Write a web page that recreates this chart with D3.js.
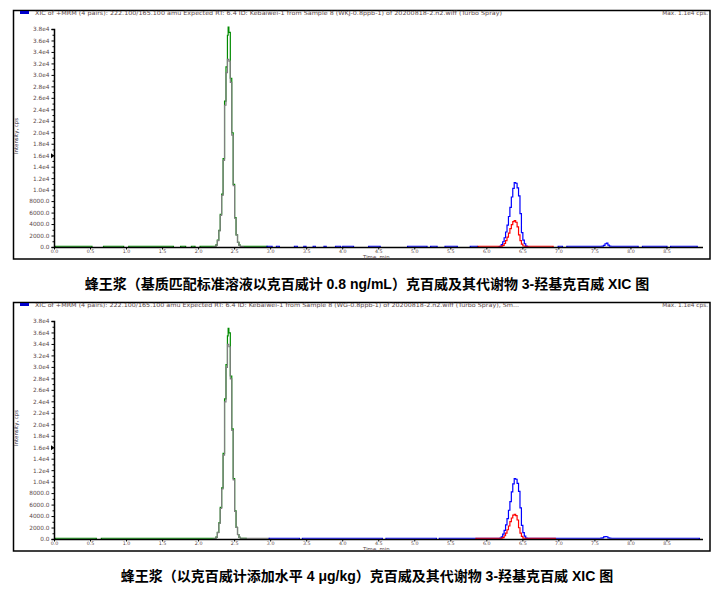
<!DOCTYPE html>
<html>
<head>
<meta charset="utf-8">
<script src="https://cdn.jsdelivr.net/npm/d3@7/dist/d3.min.js"></script>
<style>
  html, body { margin: 0; padding: 0; background: #fff; }
  svg { display: block; }
</style>
</head>
<body>
<svg id="chart" width="719" height="590"></svg>
<script>
// ---------------- DATA ----------------
const xTicks = [0.0, 0.5, 1.0, 1.5, 2.0, 2.5, 3.0, 3.5, 4.0, 4.5, 5.0, 5.5, 6.0, 6.5, 7.0, 7.5, 8.0, 8.5];
const yTickValues = [0, 2000, 4000, 6000, 8000, 10000, 12000, 14000, 16000, 18000, 20000, 22000, 24000, 26000, 28000, 30000, 32000, 34000, 36000, 38000];
const yTickLabels = ["0.0", "2000.0", "4000.0", "6000.0", "8000.0", "1.0e4", "1.2e4", "1.4e4", "1.6e4", "1.8e4", "2.0e4", "2.2e4", "2.4e4", "2.6e4", "2.8e4", "3.0e4", "3.2e4", "3.4e4", "3.6e4", "3.8e4"];
const headers = [
  "XIC of +MRM (4 pairs): 222.100/165.100 amu Expected RT: 6.4 ID: Kebaiwei-1 from Sample 8 (WKJ-0.8ppb-1) of 20200818-2.n2.wiff (Turbo Spray)",
  "XIC of +MRM (4 pairs): 222.100/165.100 amu Expected RT: 6.4 ID: Kebaiwei-1 from Sample 8 (WG-0.8ppb-1) of 20200818-2.n2.wiff (Turbo Spray), Sm..."
];
const maxLabels = ["Max. 1.1e4 cps.", "Max. 1.1e4 cps."];
const captions = [
  "蜂王浆（基质匹配标准溶液以克百威计 0.8 ng/mL）克百威及其代谢物 3-羟基克百威 XIC 图",
  "蜂王浆（以克百威计添加水平 4 μg/kg）克百威及其代谢物 3-羟基克百威 XIC 图"
];

// traces: [time (min), intensity (cps)]
const p1Green = [[0,0],[0.01,220],[0.52,0],[0.68,220],[0.96,0],[1.03,220],[1.65,0],[1.75,220],[1.82,0],[1.90,220],[1.95,0],[2.02,220],
  [2.20,220],[2.22,220],[2.24,450],[2.26,1300],[2.28,3000],[2.30,5800],[2.32,9300],[2.34,15500],[2.36,25500],[2.38,31500],[2.40,37000],[2.41,38400],
  [2.42,37500],[2.44,29500],[2.46,20000],[2.48,11000],[2.50,5200],[2.52,2200],[2.54,900],[2.56,400],[2.58,220],[2.95,0],[9.0,0]];
const p1Gray = [[2.18,0],[2.20,60],[2.22,120],[2.24,400],[2.26,1200],[2.28,2900],[2.30,5600],[2.32,9100],[2.34,15200],[2.36,24800],[2.38,30500],[2.40,32800],
  [2.42,32500],[2.44,28800],[2.46,19600],[2.48,10800],[2.50,5100],[2.52,2200],[2.54,900],[2.56,380],[2.58,140],[2.62,0]];
const p1Blue = [[0,0],[2.95,220],[3.02,0],[3.08,220],[3.12,0],[3.33,220],[3.37,0],[3.46,220],[3.49,0],[3.59,220],[3.62,0],[3.74,220],[3.77,0],
  [3.90,220],[3.97,0],[4.00,220],[4.15,0],[4.36,220],[4.52,0],[4.90,220],[5.17,0],[5.22,220],[5.31,0],[5.42,220],[5.59,0],[5.77,220],[5.87,0],
  [6.16,60],[6.18,220],[6.20,500],[6.22,1000],[6.24,1700],[6.26,2700],[6.28,3900],[6.30,5400],[6.32,7000],[6.34,8800],[6.36,10300],[6.38,11300],
  [6.40,11200],[6.42,10400],[6.44,9000],[6.46,5900],[6.48,2600],[6.50,1300],[6.52,650],[6.54,250],[6.56,80],[6.58,0],
  [6.99,220],[7.05,0],[7.11,220],[7.57,220],[7.60,240],[7.62,380],[7.64,650],[7.66,750],[7.68,420],[7.70,240],[7.72,220],[8.10,0],[8.16,220],[8.50,0],[8.55,220],[8.92,0],[9.0,0]];
const p1Red = [[5.86,0],[5.88,220],[6.18,220],[6.20,240],[6.22,350],[6.24,700],[6.26,1200],[6.28,1800],[6.30,2500],[6.32,3300],[6.34,4000],[6.36,4500],[6.38,4700],
  [6.40,4400],[6.42,3600],[6.44,2200],[6.46,1200],[6.48,600],[6.50,260],[6.52,220],[6.92,0],[6.94,0]];

const p2Green = [[0,0],[0.01,220],[0.58,0],[0.65,220],
  [2.20,220],[2.22,220],[2.24,430],[2.26,1250],[2.28,2900],[2.30,5600],[2.32,9000],[2.34,15000],[2.36,24500],[2.38,30500],[2.40,35500],[2.41,36800],
  [2.42,36000],[2.44,28500],[2.46,19300],[2.48,10600],[2.50,5000],[2.52,2100],[2.54,870],[2.56,380],[2.58,220],[2.66,0],[9.0,0]];
const p2Gray = [[2.18,0],[2.20,60],[2.22,120],[2.24,400],[2.26,1200],[2.28,2800],[2.30,5400],[2.32,8800],[2.34,14700],[2.36,24000],[2.38,30000],[2.40,34000],
  [2.42,33600],[2.44,28000],[2.46,19000],[2.48,10400],[2.50,4900],[2.52,2100],[2.54,860],[2.56,370],[2.58,220],[2.98,0]];
const p2Blue = [[0,0],[2.98,220],[3.40,0],[3.44,220],[4.55,0],[4.60,220],[5.30,0],[5.34,220],
  [6.16,220],[6.18,240],[6.20,470],[6.22,940],[6.24,1600],[6.26,2550],[6.28,3650],[6.30,5100],[6.32,6600],[6.34,8300],[6.36,9700],[6.38,10600],
  [6.40,10500],[6.42,9800],[6.44,8400],[6.46,5500],[6.48,2450],[6.50,1200],[6.52,600],[6.54,240],[6.56,220],
  [7.58,240],[7.60,300],[7.62,450],[7.64,520],[7.66,480],[7.68,300],[7.70,240],[7.72,220],[8.95,0],[9.0,0]];
const p2Red = [[5.83,0],[5.85,220],[6.18,220],[6.20,240],[6.22,330],[6.24,650],[6.26,1100],[6.28,1700],[6.30,2350],[6.32,3100],[6.34,3750],[6.36,4250],[6.38,4400],
  [6.40,4150],[6.42,3400],[6.44,2050],[6.46,1100],[6.48,560],[6.50,240],[6.52,220],[6.95,0],[6.97,0]];

const panels = [
  { dy: 0, traces: [[p1Green, "#008a00"], [p1Gray, "#808080"], [p1Blue, "#0000ff"], [p1Red, "#ff0000"]] },
  { dy: 292, traces: [[p2Green, "#008a00"], [p2Gray, "#808080"], [p2Blue, "#0000ff"], [p2Red, "#ff0000"]] }
];

// ---------------- DRAW ----------------
const svg = d3.select("#chart");
const small = "DejaVu Sans, sans-serif";
const labelColor = "#5a4848";

panels.forEach((p, i) => {
  const g = svg.append("g").attr("transform", `translate(0,${p.dy})`);
  const x = d3.scaleLinear().domain([0, 9.0]).range([54.5, 703]);
  const y = d3.scaleLinear().domain([0, 38000]).range([247.5, 29.5]);

  // frame
  g.append("rect").attr("x", 13.5).attr("y", 10.5).attr("width", 696.5).attr("height", 248.5)
    .attr("fill", "none").attr("stroke", "#000").attr("stroke-width", 1.5);
  // legend swatch
  g.append("rect").attr("x", 20).attr("y", 11).attr("width", 9).attr("height", 3).attr("fill", "#0000cc");
  // header
  const hw = i === 0 ? 467 : 484;
  g.append("text").attr("x", 35).attr("y", 14.8).attr("font-family", small).attr("font-size", 5.8)
    .attr("fill", labelColor).attr("textLength", hw).attr("lengthAdjust", "spacingAndGlyphs").text(headers[i]);
  g.append("text").attr("x", 708).attr("y", 14.8).attr("text-anchor", "end").attr("font-family", small)
    .attr("font-size", 5.8).attr("fill", labelColor).text(maxLabels[i]);

  // traces
  const line = d3.line().x(d => x(d[0])).y(d => y(d[1])).curve(d3.curveStepAfter);
  p.traces.forEach(([data, color]) => {
    g.append("path").datum(data).attr("d", line).attr("fill", "none")
      .attr("stroke", color).attr("stroke-width", 1.2);
  });

  // y axis
  const yAxis = d3.axisLeft(y).tickValues(yTickValues).tickSize(3).tickPadding(2)
    .tickFormat((d, k) => yTickLabels[k]).offset(0);
  const ya = g.append("g").attr("transform", "translate(54.5,0)").call(yAxis);
  ya.select(".domain").attr("stroke-width", 1.5);
  ya.selectAll("text").attr("font-family", small).attr("font-size", 5.8).attr("fill", labelColor);
  // minor y ticks
  const minor = d3.range(1000, 38000, 2000);
  ya.selectAll(".minor").data(minor).enter().append("line").attr("class", "minor")
    .attr("x1", -2).attr("x2", 0).attr("y1", d => y(d)).attr("y2", d => y(d)).attr("stroke", "#000");

  // x axis
  const xAxis = d3.axisBottom(x).tickValues(xTicks).tickSize(2).tickPadding(0.5)
    .tickFormat(d3.format(".1f")).tickSizeOuter(0).offset(0);
  const xa = g.append("g").attr("transform", "translate(0,247.5)").call(xAxis);
  xa.select(".domain").attr("stroke-width", 1.5);
  xa.selectAll("text").attr("font-family", small).attr("font-size", 4.8).attr("fill", labelColor);

  // marker triangle at 1.6e4
  const ty = y(16000);
  g.append("path").attr("d", `M51,${ty - 2.5} L54.5,${ty} L51,${ty + 2.5} Z`).attr("fill", "#000");

  // axis titles
  g.append("text").attr("transform", `translate(18,136) rotate(-90)`).attr("text-anchor", "middle")
    .attr("font-family", small).attr("font-size", 5.4).attr("fill", "#2a2a40").text("Intensity, cps");
  g.append("text").attr("x", 363).attr("y", 258.8).attr("font-family", small).attr("font-size", 5.4)
    .attr("fill", labelColor).text("Time, min");

  // caption
  g.append("text").attr("x", 367).attr("y", 288.5).attr("text-anchor", "middle")
    .attr("font-family", "'Liberation Sans', 'Noto Sans CJK SC', sans-serif").attr("font-weight", "bold")
    .attr("font-size", 14).attr("fill", "#000").text(captions[i]);
});
</script>
</body>
</html>
